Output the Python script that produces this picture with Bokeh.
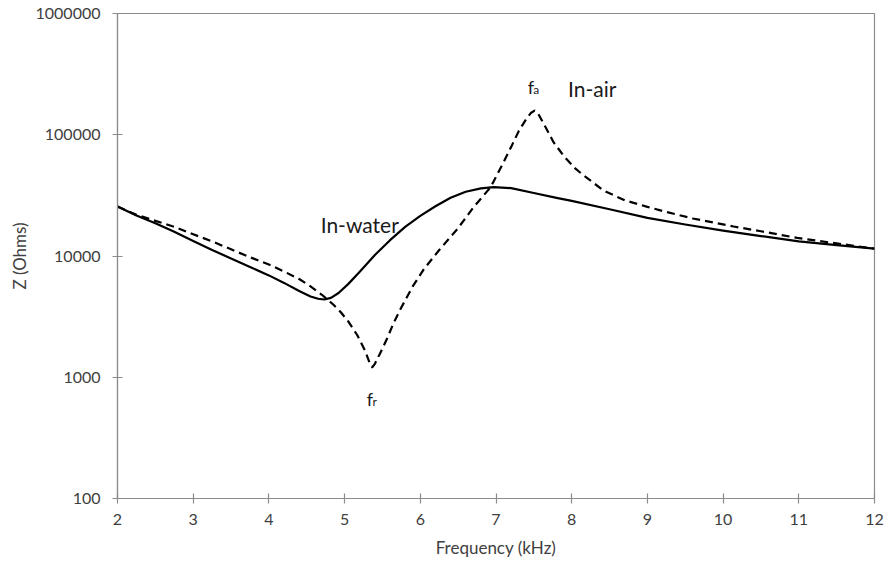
from bokeh.plotting import figure
from bokeh.models import ColumnDataSource, FixedTicker, NumeralTickFormatter
from bokeh.core.properties import value
from bokeh.embed import file_html
from bokeh.resources import INLINE

# Impedance magnitude of the transducer, in water and in air (Ohms vs kHz)
freq_water = [2.0, 2.25, 2.5, 2.75, 3.0, 3.25, 3.5, 3.75, 4.0, 4.2, 4.4, 4.55,
              4.65, 4.73, 4.82, 4.92, 5.05, 5.2, 5.4, 5.6, 5.8, 6.0, 6.2, 6.4,
              6.6, 6.8, 6.97, 7.2, 7.5, 7.8, 8.0, 8.5, 9.0, 9.5, 10.0, 10.5,
              11.0, 11.5, 12.0]
z_water = [25600, 21600, 18600, 15850, 13300, 11200, 9550, 8130, 6920, 6000,
           5150, 4640, 4440, 4380, 4520, 4950, 5890, 7410, 10200, 13500, 17400,
           21400, 25700, 30200, 33900, 36100, 37000, 36300, 33100, 30200, 28500,
           24300, 20650, 18200, 16200, 14600, 13200, 12300, 11500]

freq_air = [2.0, 2.25, 2.5, 2.75, 3.0, 3.25, 3.5, 3.75, 4.0, 4.2, 4.4, 4.55,
            4.7, 4.85, 4.95, 5.05, 5.17, 5.27, 5.33, 5.365, 5.4, 5.47, 5.56,
            5.65, 5.74, 5.9, 6.05, 6.25, 6.49, 6.7, 6.93, 7.1, 7.2, 7.3, 7.4,
            7.46, 7.51, 7.56, 7.65, 7.76, 7.9, 8.05, 8.16, 8.42, 8.7, 9.0, 9.26,
            9.6, 10.14, 10.5, 10.98, 11.5, 12.0]
z_air = [25600, 21900, 19500, 17400, 15100, 13200, 11350, 9770, 8510, 7450,
         6460, 5620, 4790, 3980, 3440, 2880, 2210, 1660, 1320, 1210, 1290, 1580,
         2080, 2820, 3670, 5620, 7830, 11200, 16700, 25100, 37000, 59400, 79400,
         107000, 135000, 151000, 158000, 148000, 117000, 86900, 66100, 52500,
         46100, 34700, 28800, 25400, 23000, 20400, 17500, 16000, 14100, 12700,
         11500]

x_ticks = [2, 3, 4, 5, 6, 7, 8, 9, 10, 11, 12]
y_ticks = [100, 1000, 10000, 100000, 1000000]

FONT = "Lato"
AXIS_GREY = "#8c8c8c"
TEXT_GREY = "#404040"
INK = "#1a1a1a"

p = figure(width=886, height=563, y_axis_type="log",
           x_range=(2, 12), y_range=(100, 1000000),
           output_backend="svg", toolbar_location=None,
           min_border_left=117, min_border_right=12,
           min_border_top=13, min_border_bottom=65)
p.background_fill_color = "white"
p.border_fill_color = "white"
p.outline_line_color = AXIS_GREY
p.outline_line_width = 1.2
p.xgrid.visible = False
p.ygrid.visible = False

p.xaxis.ticker = FixedTicker(ticks=x_ticks)
p.yaxis.ticker = FixedTicker(ticks=y_ticks)
p.yaxis.formatter = NumeralTickFormatter(format="0")
p.xaxis.axis_label = "Frequency (kHz)"
p.yaxis.axis_label = "Z (Ohms)"

for ax in (p.xaxis, p.yaxis):
    ax.axis_line_color = AXIS_GREY
    ax.axis_line_width = 1.2
    ax.major_tick_line_color = AXIS_GREY
    ax.major_tick_line_width = 1.2
    ax.major_tick_in = 5
    ax.major_tick_out = 5
    ax.minor_tick_line_color = None
    ax.major_label_text_font = FONT
    ax.major_label_text_font_size = "16px"
    ax.major_label_text_color = TEXT_GREY
    ax.axis_label_text_font = FONT
    ax.axis_label_text_font_size = "17px"
    ax.axis_label_text_font_style = "normal"
    ax.axis_label_text_color = TEXT_GREY

p.yaxis.major_label_standoff = 12
p.yaxis.axis_label_standoff = 3
p.xaxis.major_label_standoff = 10
p.xaxis.axis_label_standoff = 9

src_water = ColumnDataSource(dict(f=freq_water, z=z_water))
src_air = ColumnDataSource(dict(f=freq_air, z=z_air))

p.line("f", "z", source=src_air, line_color="black", line_width=2.2,
       line_dash="8 5", line_join="round")
p.line("f", "z", source=src_water, line_color="black", line_width=2.2,
       line_join="round")

# Curve annotations
p.text(x=[5.20], y=[18200], text=["In-water"], text_font=value(FONT),
       text_font_size="21px", text_color=INK, text_align="center",
       text_baseline="alphabetic")
p.text(x=[8.27], y=[240000], text=["In-air"], text_font=value(FONT),
       text_font_size="21px", text_color=INK, text_align="center",
       text_baseline="alphabetic")

# Anti-resonance f_a and resonance f_r markers
p.text(x=[7.46, 5.335], y=[248000, 665], text=["f", "f"], text_font=value(FONT),
       text_font_size="18px", text_color=INK, text_align="center",
       text_baseline="alphabetic")
p.text(x=[7.46, 5.335], y=[248000, 665], text=["a", "r"], text_font=value(FONT),
       text_font_size="12px", text_color=INK, text_align="left",
       text_baseline="alphabetic", x_offset=2.5, y_offset=3)

open("out.html", "w").write(file_html(p, INLINE))
